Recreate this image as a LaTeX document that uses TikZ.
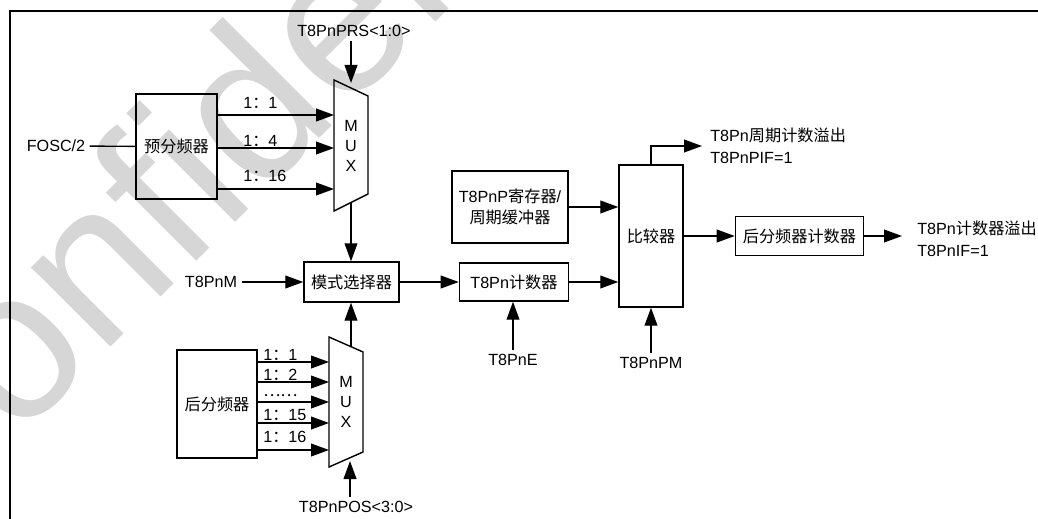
\documentclass[tikz,border=0pt]{standalone}
\usepackage{fontspec}
\setmainfont{Liberation Sans}
\newfontfamily\cjk{Noto Sans CJK SC}
\newcommand{\zhcn}[1]{{\cjk #1}}
\usetikzlibrary{arrows.meta, positioning, calc}
\definecolor{wmgray}{RGB}{214,214,214}
\tikzset{
  block/.style    = {rectangle, draw, line width=1pt, inner sep=0pt,
                     text centered},
  muxtxt/.style   = {align=center, inner sep=0pt},
  lbl/.style      = {inner sep=3pt},
  ratiolbl/.style = {inner sep=0pt, anchor=base west},
  outlbl/.style   = {align=left, inner sep=0pt,
                     font=\fontsize{11.5}{15.6}\selectfont},
  arr/.style      = {-{Triangle[length=0.45cm, width=0.32cm]}, line width=1pt},
  wire/.style     = {line width=1pt},
  wmark/.style    = {text=wmgray, inner sep=0pt,
                     font=\fontsize{151}{151}\selectfont},
}

\begin{document}
\begin{tikzpicture}[x=0.025cm, y=-0.025cm, font=\fontsize{11.5}{14.5}\selectfont]
\useasboundingbox (0,0) rectangle (1038,519);

% ── Watermark ─────────────────────────────────────────────
\begin{scope}
  \clip (0,0) rectangle (1038,519);
  \node[wmark, rotate=45, anchor=base west] (wm) at (-92,550) {Confidential};
\end{scope}

% ── Frame ─────────────────────────────────────────────────
\draw[line width=1.5pt] (10,519) -- (10,11) -- (1038,11);

% ── Prescaler + MUX ───────────────────────────────────────
\node[lbl] (fosc) at (56,146) {FOSC/2};
\node[block, minimum width=2.025cm, minimum height=2.625cm] (pre)
      at (176.5,146.5) {\zhcn{预分频器}};
\draw[wire] (fosc) -- (pre);

\node[muxtxt] (mux1) at (351,146) {M\\U\\X};
\draw[wire] (mux1.center) ++(-17,-66) -- ++(34,16) -- ++(0,98)
      -- ++(-34,17) -- cycle;

\coordinate (m1a) at (334,115);
\coordinate (m1b) at (334,148);
\coordinate (m1c) at (334,189);
\draw[arr] (pre.east |- m1a) -- (m1a);
\draw[arr] (pre.east |- m1b) -- (m1b);
\draw[arr] (pre.east |- m1c) -- (m1c);
\node[ratiolbl] (r1)  at (243,109) {1\zhcn{：}1};
\node[ratiolbl] (r4)  at (243,146) {1\zhcn{：}4};
\node[ratiolbl] (r16) at (243,181) {1\zhcn{：}16};

\node[lbl] (prs) at (354,31) {T8PnPRS<1:0>};
\coordinate (m1in) at (351,83);
\draw[arr] (prs.south -| m1in) -- (m1in);

% ── Mode selector ─────────────────────────────────────────
\node[block, minimum width=2.375cm, minimum height=1cm] (mode)
      at (351.5,282) {\zhcn{模式选择器}};
\coordinate (m1out) at (351,202);
\draw[arr] (m1out) -- (m1out |- mode.north);

\node[lbl] (mset) at (211,282) {T8PnM};
\draw[arr] (mset) -- (mode);

% ── Postscaler + MUX ──────────────────────────────────────
\node[block, minimum width=2cm, minimum height=2.7cm] (post)
      at (217,404) {\zhcn{后分频器}};

\node[muxtxt] (mux2) at (346,402) {M\\U\\X};
\draw[wire] (mux2.center) ++(-17,-65) -- ++(34,15) -- ++(0,100)
      -- ++(-34,15) -- cycle;

\coordinate (m2a) at (329,362);
\coordinate (m2b) at (329,382);
\coordinate (m2c) at (329,402);
\coordinate (m2d) at (329,423);
\coordinate (m2e) at (329,450);
\draw[arr] (post.east |- m2a) -- (m2a);
\draw[arr] (post.east |- m2b) -- (m2b);
\draw[arr] (post.east |- m2c) -- (m2c);
\draw[arr] (post.east |- m2d) -- (m2d);
\draw[arr] (post.east |- m2e) -- (m2e);
\node[ratiolbl] (s1)  at (263,360) {1\zhcn{：}1};
\node[ratiolbl] (s2)  at (263,380) {1\zhcn{：}2};
\node[ratiolbl] (sd)  at (263,396) {\zhcn{……}};
\node[ratiolbl] (s15) at (263,420) {1\zhcn{：}15};
\node[ratiolbl] (s16) at (263,442) {1\zhcn{：}16};

\coordinate (m2out) at (351,346);
\draw[arr] (m2out) -- (m2out |- mode.south);

\node[lbl] (pos) at (356,507) {T8PnPOS<3:0>};
\coordinate (m2in) at (350,461);
\draw[arr] (pos.north -| m2in) -- (m2in);

% ── Counter / period register / comparator ────────────────
\node[block, right=1.475cm of mode, minimum width=2.725cm,
      minimum height=0.95cm] (cnt) {T8Pn\zhcn{计数器}};
\draw[arr] (mode) -- (cnt);

\node[lbl] (ten) at (513,360) {T8PnE};
\draw[arr] (ten) -- (ten |- cnt.south);

\node[block, align=center, minimum width=2.9cm, minimum height=1.8cm] (preg)
      at (510,207) {T8PnP\zhcn{寄存器}/\\\zhcn{周期缓冲器}};

\node[block, minimum width=1.6cm, minimum height=3.55cm] (cmp)
      at (651,236) {\zhcn{比较器}};
\draw[arr] (preg) -- (preg -| cmp.west);
\draw[arr] (cnt)  -- (cnt -| cmp.west);

\node[lbl] (tpm) at (651,363) {T8PnPM};
\draw[arr] (tpm) -- (cmp);

% ── Outputs ───────────────────────────────────────────────
\node[outlbl, anchor=west] (pif) at (710,146)
      {T8Pn\zhcn{周期计数溢出}\\T8PnPIF=1};
\draw[arr, shorten >=0.2cm] (cmp.north) |- (pif.west);

\node[block, right=1.275cm of cmp, minimum width=3.2cm,
      minimum height=0.975cm] (pcnt) {\zhcn{后分频器计数器}};
\draw[arr] (cmp) -- (pcnt);

\node[outlbl, anchor=west] (tif) at (917,239)
      {T8Pn\zhcn{计数器溢出}\\T8PnIF=1};
\draw[arr, shorten >=0.375cm] (pcnt.east) -- (pcnt.east -| tif.west);

\end{tikzpicture}
\end{document}
